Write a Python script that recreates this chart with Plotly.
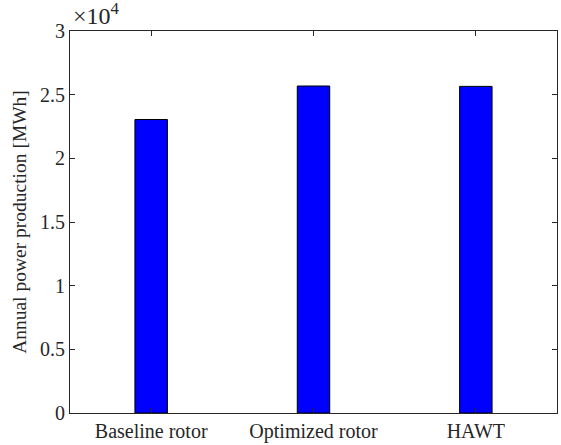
import plotly.graph_objects as go

# Annual energy yield per rotor configuration
categories = ["Baseline rotor", "Optimized rotor", "HAWT"]
energy_mwh = [23050, 25680, 25650]

y_ticks = [0, 5000, 10000, 15000, 20000, 25000, 30000]
y_tick_labels = ["0", "0.5", "1", "1.5", "2", "2.5", "3"]

font_family = "Liberation Serif"
axis_color = "#262626"

fig = go.Figure(
    go.Bar(
        x=categories,
        y=energy_mwh,
        width=0.2,
        marker=dict(color="#0000ff", line=dict(color="#000000", width=1)),
    )
)

axis_common = dict(
    showline=True,
    linecolor=axis_color,
    linewidth=1,
    mirror="ticks",
    ticks="inside",
    ticklen=5,
    tickcolor=axis_color,
    showgrid=False,
    zeroline=False,
    automargin=False,
    tickfont=dict(family=font_family, size=20, color=axis_color),
)

fig.update_layout(
    width=561,
    height=445,
    margin=dict(l=70, r=4, t=31, b=32),
    plot_bgcolor="white",
    paper_bgcolor="white",
    showlegend=False,
    font=dict(family=font_family, size=20, color=axis_color),
    xaxis=dict(range=[-0.5, 2.5], **axis_common),
    yaxis=dict(
        range=[0, 30000],
        tickvals=y_ticks,
        ticktext=y_tick_labels,
        title=dict(text="Annual power production [MWh]",
                   font=dict(family=font_family, size=19.5, color=axis_color),
                   standoff=8),
        **axis_common,
    ),
    annotations=[
        dict(
            text="×10<sup>4</sup>",
            xref="paper", yref="paper",
            x=0.003, y=1.0,
            xanchor="left", yanchor="bottom",
            showarrow=False,
            font=dict(family=font_family, size=24, color=axis_color),
        )
    ],
)

fig.write_html("out.html")
